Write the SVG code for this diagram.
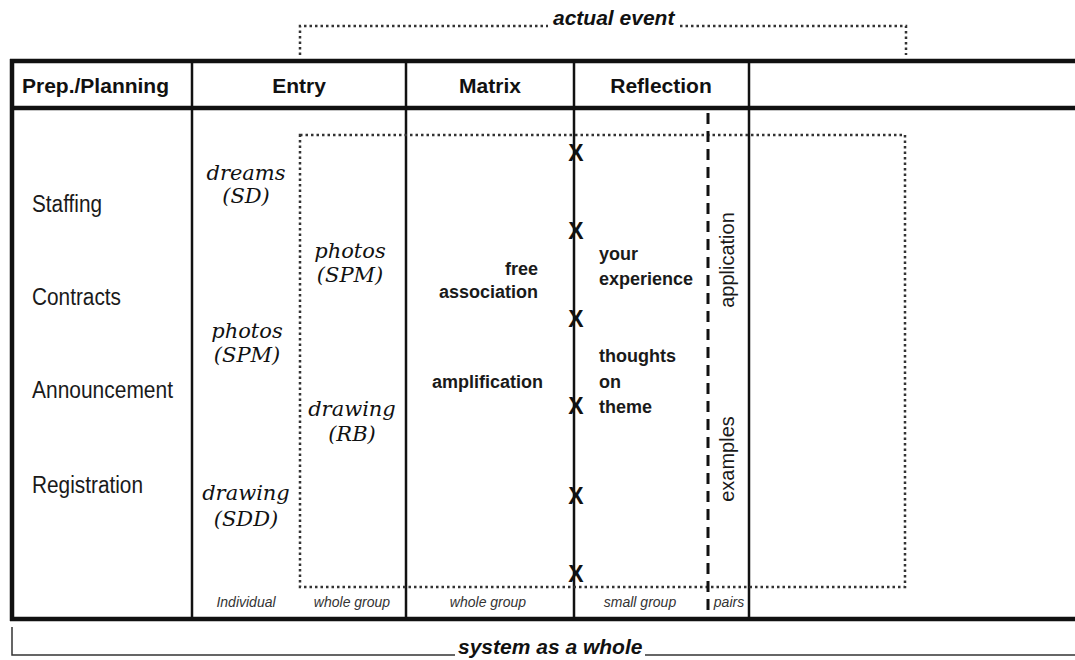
<svg xmlns="http://www.w3.org/2000/svg" width="1075" height="660" viewBox="0 0 1075 660">
<style>
.hdr{font-family:"Liberation Sans",Arial,sans-serif;font-weight:bold;font-size:21px;fill:#111}
.prep{font-family:"Liberation Sans",Arial,sans-serif;font-size:23px;fill:#1a1a1a}
.hand{font-family:"DejaVu Serif",serif;font-style:italic;font-size:21px;fill:#111;text-anchor:middle}
.bold{font-family:"Liberation Sans",Arial,sans-serif;font-weight:bold;font-size:18px;fill:#1a1a1a}
.foot{font-family:"Liberation Sans",Arial,sans-serif;font-style:italic;font-size:14px;fill:#333;text-anchor:middle}
.vert{font-family:"Liberation Sans",Arial,sans-serif;font-size:20px;fill:#1a1a1a;text-anchor:middle}
.xm{font-family:"Liberation Sans",Arial,sans-serif;font-weight:bold;font-size:23px;fill:#111;text-anchor:middle}
.big{font-family:"Liberation Sans",Arial,sans-serif;font-weight:bold;font-style:italic;font-size:21px;fill:#111}
.thick{stroke:#111;stroke-width:4.5;fill:none}
.thin{stroke:#111;stroke-width:2.5;fill:none}
.dot{stroke:#333;stroke-width:2.5;stroke-dasharray:2.5 3;fill:none}
.dash{stroke:#111;stroke-width:3;stroke-dasharray:11 7;fill:none}
.bracket{stroke:#333;stroke-width:1.5;fill:none}
</style>

<g id="top-bracket">
<path class="dot" d="M300,55 V26 H548"/>
<path class="dot" d="M680,26 H906 V55"/>
<text class="big" x="553" y="25">actual event</text>
</g>

<g id="table-frame">
<line class="thick" x1="10" y1="61" x2="1075" y2="61"/>
<line class="thick" x1="10" y1="108" x2="1075" y2="108"/>
<line class="thick" x1="10" y1="619" x2="1075" y2="619"/>
<line class="thick" x1="12" y1="59" x2="12" y2="621"/>
<line class="thin" x1="192" y1="61" x2="192" y2="619"/>
<line class="thin" x1="406" y1="61" x2="406" y2="619"/>
<line class="thin" x1="574" y1="61" x2="574" y2="619"/>
<line class="thin" x1="749" y1="61" x2="749" y2="619"/>
</g>

<g id="connectors">
<rect class="dot" x="300" y="135" width="605" height="452"/>
<line class="dash" x1="708" y1="113" x2="708" y2="619"/>
</g>

<g id="headers">
<text class="hdr" x="22" y="93">Prep./Planning</text>
<text class="hdr" x="299" y="93" text-anchor="middle">Entry</text>
<text class="hdr" x="490" y="93" text-anchor="middle">Matrix</text>
<text class="hdr" x="661" y="93" text-anchor="middle">Reflection</text>
</g>

<g id="prep-items">
<text class="prep" x="32" y="212" textLength="70" lengthAdjust="spacingAndGlyphs">Staffing</text>
<text class="prep" x="32" y="305" textLength="89" lengthAdjust="spacingAndGlyphs">Contracts</text>
<text class="prep" x="32" y="398" textLength="141" lengthAdjust="spacingAndGlyphs">Announcement</text>
<text class="prep" x="32" y="493" textLength="111" lengthAdjust="spacingAndGlyphs">Registration</text>
</g>

<g id="entry-individual">
<text class="hand" x="246" y="180">dreams</text>
<text class="hand" x="246" y="203">(SD)</text>
<text class="hand" x="247" y="338">photos</text>
<text class="hand" x="247" y="362">(SPM)</text>
<text class="hand" x="246" y="500">drawing</text>
<text class="hand" x="246" y="526">(SDD)</text>
</g>

<g id="entry-group">
<text class="hand" x="350" y="258">photos</text>
<text class="hand" x="350" y="282">(SPM)</text>
<text class="hand" x="352" y="416">drawing</text>
<text class="hand" x="352" y="441">(RB)</text>
</g>

<g id="matrix">
<text class="bold" x="538" y="275" text-anchor="end">free</text>
<text class="bold" x="538" y="298" text-anchor="end">association</text>
<text class="bold" x="432" y="388">amplification</text>
</g>

<g id="reflection">
<text class="bold" x="599" y="260">your</text>
<text class="bold" x="599" y="285">experience</text>
<text class="bold" x="599" y="362">thoughts</text>
<text class="bold" x="599" y="388">on</text>
<text class="bold" x="599" y="413">theme</text>
<text class="xm" x="576" y="161">X</text>
<text class="xm" x="576" y="239">X</text>
<text class="xm" x="576" y="327">X</text>
<text class="xm" x="576" y="414">X</text>
<text class="xm" x="576" y="504">X</text>
<text class="xm" x="576" y="582">X</text>
</g>

<g id="pairs">
<text class="vert" transform="translate(734,260) rotate(-90)">application</text>
<text class="vert" transform="translate(734,459) rotate(-90)">examples</text>
</g>

<g id="footer-labels">
<text class="foot" x="246" y="607">Individual</text>
<text class="foot" x="352" y="607">whole group</text>
<text class="foot" x="488" y="607">whole group</text>
<text class="foot" x="640" y="607">small group</text>
<text class="foot" x="729" y="607">pairs</text>
</g>

<g id="bottom-bracket">
<path class="bracket" d="M12,627 V655 H455"/>
<line class="bracket" x1="645" y1="655" x2="1075" y2="655"/>
<text class="big" x="458" y="654">system as a whole</text>
</g>
</svg>
